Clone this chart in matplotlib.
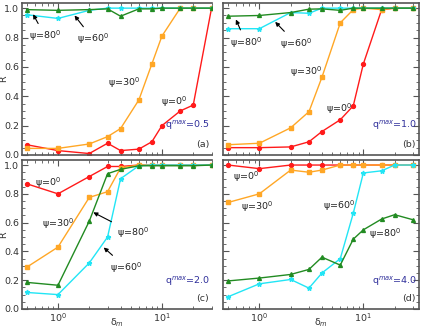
import numpy as np
import matplotlib.pyplot as plt
from matplotlib.ticker import MultipleLocator, LogLocator, NullFormatter

# delta_m values (same for every panel)
delta_m = [0.5, 1, 2, 3, 4, 6, 8, 10, 15, 20, 30]

# (a) q^max = 0.5
a_psi0 = [0.07, 0.03, 0.01, 0.08, 0.03, 0.04, 0.09, 0.20, 0.30, 0.34, 1.0]
a_psi30 = [0.045, 0.045, 0.075, 0.125, 0.18, 0.375, 0.62, 0.81, 1.0, 1.0, 1.0]
a_psi60 = [0.955, 0.93, 0.985, 1.0, 1.0, 1.0, 1.0, 1.0, 1.0, 1.0, 1.0]
a_psi80 = [0.99, 0.985, 0.99, 0.995, 0.945, 0.995, 0.995, 1.0, 1.0, 1.0, 1.0]

# (b) q^max = 1.0
b_psi0 = [0.05, 0.05, 0.055, 0.09, 0.16, 0.24, 0.335, 0.62, 0.99, 1.0, 1.0]
b_psi30 = [0.07, 0.08, 0.185, 0.295, 0.53, 0.90, 0.99, 1.0, 0.99, 1.0, 1.0]
b_psi60 = [0.86, 0.86, 0.97, 0.965, 1.0, 1.0, 1.0, 1.0, 1.0, 1.0, 1.0]
b_psi80 = [0.945, 0.95, 0.97, 0.993, 0.995, 0.985, 1.0, 1.0, 1.0, 1.0, 1.0]

# (c) q^max = 2.0
c_psi0 = [0.87, 0.80, 0.92, 0.99, 0.99, 1.0, 1.0, 1.0, 1.0, 1.0, 1.0]
c_psi30 = [0.29, 0.43, 0.775, 0.815, 0.98, 1.0, 1.0, 1.0, 1.0, 1.0, 1.0]
c_psi60 = [0.115, 0.10, 0.32, 0.50, 0.905, 0.995, 1.0, 1.0, 1.0, 1.0, 1.0]
c_psi80 = [0.185, 0.165, 0.61, 0.94, 0.97, 0.995, 0.995, 0.995, 0.995, 0.995, 1.0]

# (d) q^max = 4.0
d_psi0 = [1.0, 0.975, 1.0, 1.0, 1.0, 1.0, 1.0, 1.0, 1.0, 1.0, 1.0]
d_psi30 = [0.74, 0.80, 0.965, 0.95, 0.965, 1.0, 1.0, 1.0, 1.0, 1.0, 1.0]
d_psi60 = [0.085, 0.175, 0.205, 0.145, 0.25, 0.35, 0.665, 0.945, 0.96, 1.0, 1.0]
d_psi80 = [0.195, 0.215, 0.24, 0.275, 0.36, 0.305, 0.485, 0.55, 0.625, 0.655, 0.62]

qmax_labels = ['q$^{max}$=0.5', 'q$^{max}$=1.0', 'q$^{max}$=2.0', 'q$^{max}$=4.0']
panel_labels = ['(a)', '(b)', '(c)', '(d)']

col0 = '#ff1a1a'
col30 = '#ffa726'
col60 = '#22e5f5'
col80 = '#228b22'
spine_col = '#555555'
fs = 6.8

plt.rcParams['font.family'] = 'DejaVu Sans'

fig = plt.figure(figsize=(4.21, 3.29), dpi=100)
ax_a = fig.add_axes([22/421, 174/329, 190/421, 152/329])
ax_b = fig.add_axes([223/421, 174/329, 196/421, 152/329])
ax_c = fig.add_axes([22/421, 20/329, 190/421, 149/329])
ax_d = fig.add_axes([223/421, 20/329, 196/421, 149/329])
axes = [ax_a, ax_b, ax_c, ax_d]
data = [(a_psi0, a_psi30, a_psi60, a_psi80),
        (b_psi0, b_psi30, b_psi60, b_psi80),
        (c_psi0, c_psi30, c_psi60, c_psi80),
        (d_psi0, d_psi30, d_psi60, d_psi80)]

for i, ax in enumerate(axes):
    p0, p30, p60, p80 = data[i]
    ax.plot(delta_m, p0, '-o', color=col0, lw=1, ms=2.8)
    ax.plot(delta_m, p30, '-s', color=col30, lw=1, ms=2.8)
    ax.plot(delta_m, p60, '-*', color=col60, lw=1, ms=3.5)
    ax.plot(delta_m, p80, '-^', color=col80, lw=1, ms=2.8)
    ax.set_xscale('log')
    ax.set_ylim(0, 1.035)
    if i % 2 == 0:
        ax.set_xlim(0.451, 30.3)
        ax.spines['right'].set_visible(False)
    else:
        ax.set_xlim(0.447, 34.3)
    ax.yaxis.set_major_locator(MultipleLocator(0.2))
    ax.yaxis.set_minor_locator(MultipleLocator(0.05))
    ax.xaxis.set_major_locator(LogLocator(base=10))
    ax.xaxis.set_minor_locator(LogLocator(base=10, subs=np.arange(2, 10)))
    ax.xaxis.set_minor_formatter(NullFormatter())
    ax.tick_params(which='both', direction='in', top=True, right=(i % 2 == 1),
                   labelsize=fs, colors='#333333', pad=2)
    ax.tick_params(which='major', length=4, color=spine_col)
    ax.tick_params(which='minor', length=2, color=spine_col)
    for s in ax.spines.values():
        s.set_color(spine_col)
        s.set_linewidth(1.2)
    if i < 2:
        ax.tick_params(labelbottom=False)
    else:
        ax.set_xlabel('δ$_m$', fontsize=fs, color='#333333')
        ax.xaxis.set_label_coords(0.5, -0.05)
    if i % 2 == 1:
        ax.tick_params(labelleft=False)
    else:
        ax.set_ylabel('R', fontsize=fs, color='#333333')
        ax.yaxis.set_label_coords(-0.072, 0.5)
    ax.text(0.99, 0.2 if i < 2 else 0.19, qmax_labels[i], transform=ax.transAxes,
            ha='right', va='center', fontsize=fs, color='#2e2e9a')
    ax.text(0.985, 0.07, panel_labels[i], transform=ax.transAxes,
            ha='right', va='center', fontsize=fs, color='#333333')

arr = dict(arrowstyle='-|>', color='black', lw=0.8, mutation_scale=6)
tk = dict(fontsize=fs, ha='center', va='center', color='#222222')

# panel (a)
ax_a.annotate('ψ=80$^0$', xy=(0.56, 0.975), xytext=(0.75, 0.81), arrowprops=arr, **tk)
ax_a.annotate('ψ=60$^0$', xy=(1.39, 0.965), xytext=(2.17, 0.79), arrowprops=arr, **tk)
ax_a.text(4.3, 0.49, 'ψ=30$^0$', **tk)
ax_a.text(13, 0.365, 'ψ=0$^0$', **tk)

# panel (b)
ax_b.annotate('ψ=80$^0$', xy=(0.58, 0.94), xytext=(0.745, 0.766), arrowprops=arr, **tk)
ax_b.annotate('ψ=60$^0$', xy=(1.36, 0.92), xytext=(2.25, 0.76), arrowprops=arr, **tk)
ax_b.text(2.81, 0.566, 'ψ=30$^0$', **tk)
ax_b.text(5.84, 0.317, 'ψ=0$^0$', **tk)

# panel (c)
ax_c.text(0.80, 0.875, 'ψ=0$^0$', **tk)
ax_c.text(1.0, 0.59, 'ψ=30$^0$', **tk)
ax_c.annotate('ψ=80$^0$', xy=(2.07, 0.68), xytext=(5.25, 0.53), arrowprops=arr, **tk)
ax_c.annotate('ψ=60$^0$', xy=(2.63, 0.44), xytext=(4.5, 0.29), arrowprops=arr, **tk)

# panel (d)
ax_d.text(0.75, 0.92, 'ψ=0$^0$', **tk)
ax_d.text(0.95, 0.71, 'ψ=30$^0$', **tk)
ax_d.text(5.8, 0.72, 'ψ=60$^0$', **tk)
ax_d.text(16.2, 0.52, 'ψ=80$^0$', **tk)

fig.savefig('out.png', dpi=100)
